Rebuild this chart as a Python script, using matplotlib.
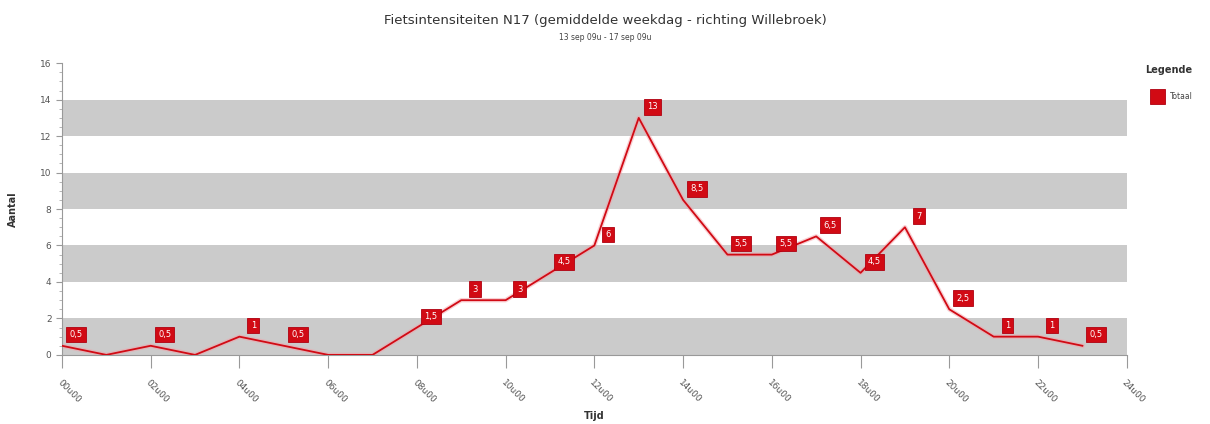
import numpy as np
import matplotlib.pyplot as plt
from matplotlib.patches import Rectangle

# gemiddelde weekdag, per uur
hours = list(range(24))
counts = [0.5, 0, 0.5, 0, 1, 0.5, 0, 0, 1.5, 3, 3, 4.5, 6, 13, 8.5,
          5.5, 5.5, 6.5, 4.5, 7, 2.5, 1, 1, 0.5]
tick_hours = list(range(0, 25, 2))
tick_labels = [f"{h:02d}u00" for h in tick_hours]

title = "Fietsintensiteiten N17 (gemiddelde weekdag - richting Willebroek)"
subtitle = "13 sep 09u - 17 sep 09u"
red = "#d10a14"
band_grey = "#cbcbcb"
text_grey = "#555555"


def fmt(v: float) -> str:
    return f"{v:g}".replace(".", ",")


fig = plt.figure(figsize=(12.1, 4.24), dpi=100)
ax = fig.add_axes([0.0512, 0.163, 0.8800, 0.688])

# alternating grey bands
for lo in range(0, 16, 4):
    ax.axhspan(lo, lo + 2, color=band_grey, zorder=0, lw=0)

ax.plot(hours, counts, color="#f4a0a8", lw=3.2, alpha=0.5, zorder=2)
ax.plot(hours, counts, color=red, lw=1.3, zorder=3)

# value labels, zero hours left out
for h, v in zip(hours, counts):
    if v == 0:
        continue
    ax.annotate(fmt(v), (h, v), xytext=(10, 8), textcoords="offset points",
                ha="center", va="center", fontsize=6, color="white",
                bbox=dict(boxstyle="square,pad=0.4", fc=red, ec="#b00010", lw=0.6),
                zorder=4)

ax.set_xlim(0, 24)
ax.set_ylim(0, 16)
ax.set_xticks(tick_hours)
ax.set_xticklabels(tick_labels, rotation=-45, ha="left", rotation_mode="anchor",
                   fontsize=6.5, color=text_grey)
ax.set_yticks(range(0, 17, 2))
ax.set_yticks(np.arange(0, 16.01, 0.5), minor=True)
ax.tick_params(axis="y", labelsize=6.5, labelcolor=text_grey, color="#999999", length=4)
ax.tick_params(axis="y", which="minor", color="#aaaaaa", length=2)
ax.tick_params(axis="x", labelsize=6.5, color="#999999", length=9, pad=8)

for side in ["top", "right"]:
    ax.spines[side].set_visible(False)
ax.spines["left"].set_color("#999999")
ax.spines["bottom"].set_color("#999999")

ax.set_ylabel("Aantal", fontsize=7, fontweight="bold", color="#333333", labelpad=16)
ax.set_xlabel("Tijd", fontsize=7, fontweight="bold", color="#333333", labelpad=4)

fig.text(0.5, 0.952, title, ha="center", va="center", fontsize=9.5, color="#333333")
fig.text(0.5, 0.912, subtitle, ha="center", va="center", fontsize=5.5, color="#444444")

# legend block on the right
fig.text(0.946, 0.835, "Legende", ha="left", va="center", fontsize=7,
         fontweight="bold", color="#333333")
fig.patches.append(Rectangle((0.950, 0.755), 0.0125, 0.036, transform=fig.transFigure,
                             fc=red, ec="#b00010", lw=0.6))
fig.text(0.967, 0.773, "Totaal", ha="left", va="center", fontsize=5.5, color="#444444")

fig.savefig("out.png", dpi=100)
